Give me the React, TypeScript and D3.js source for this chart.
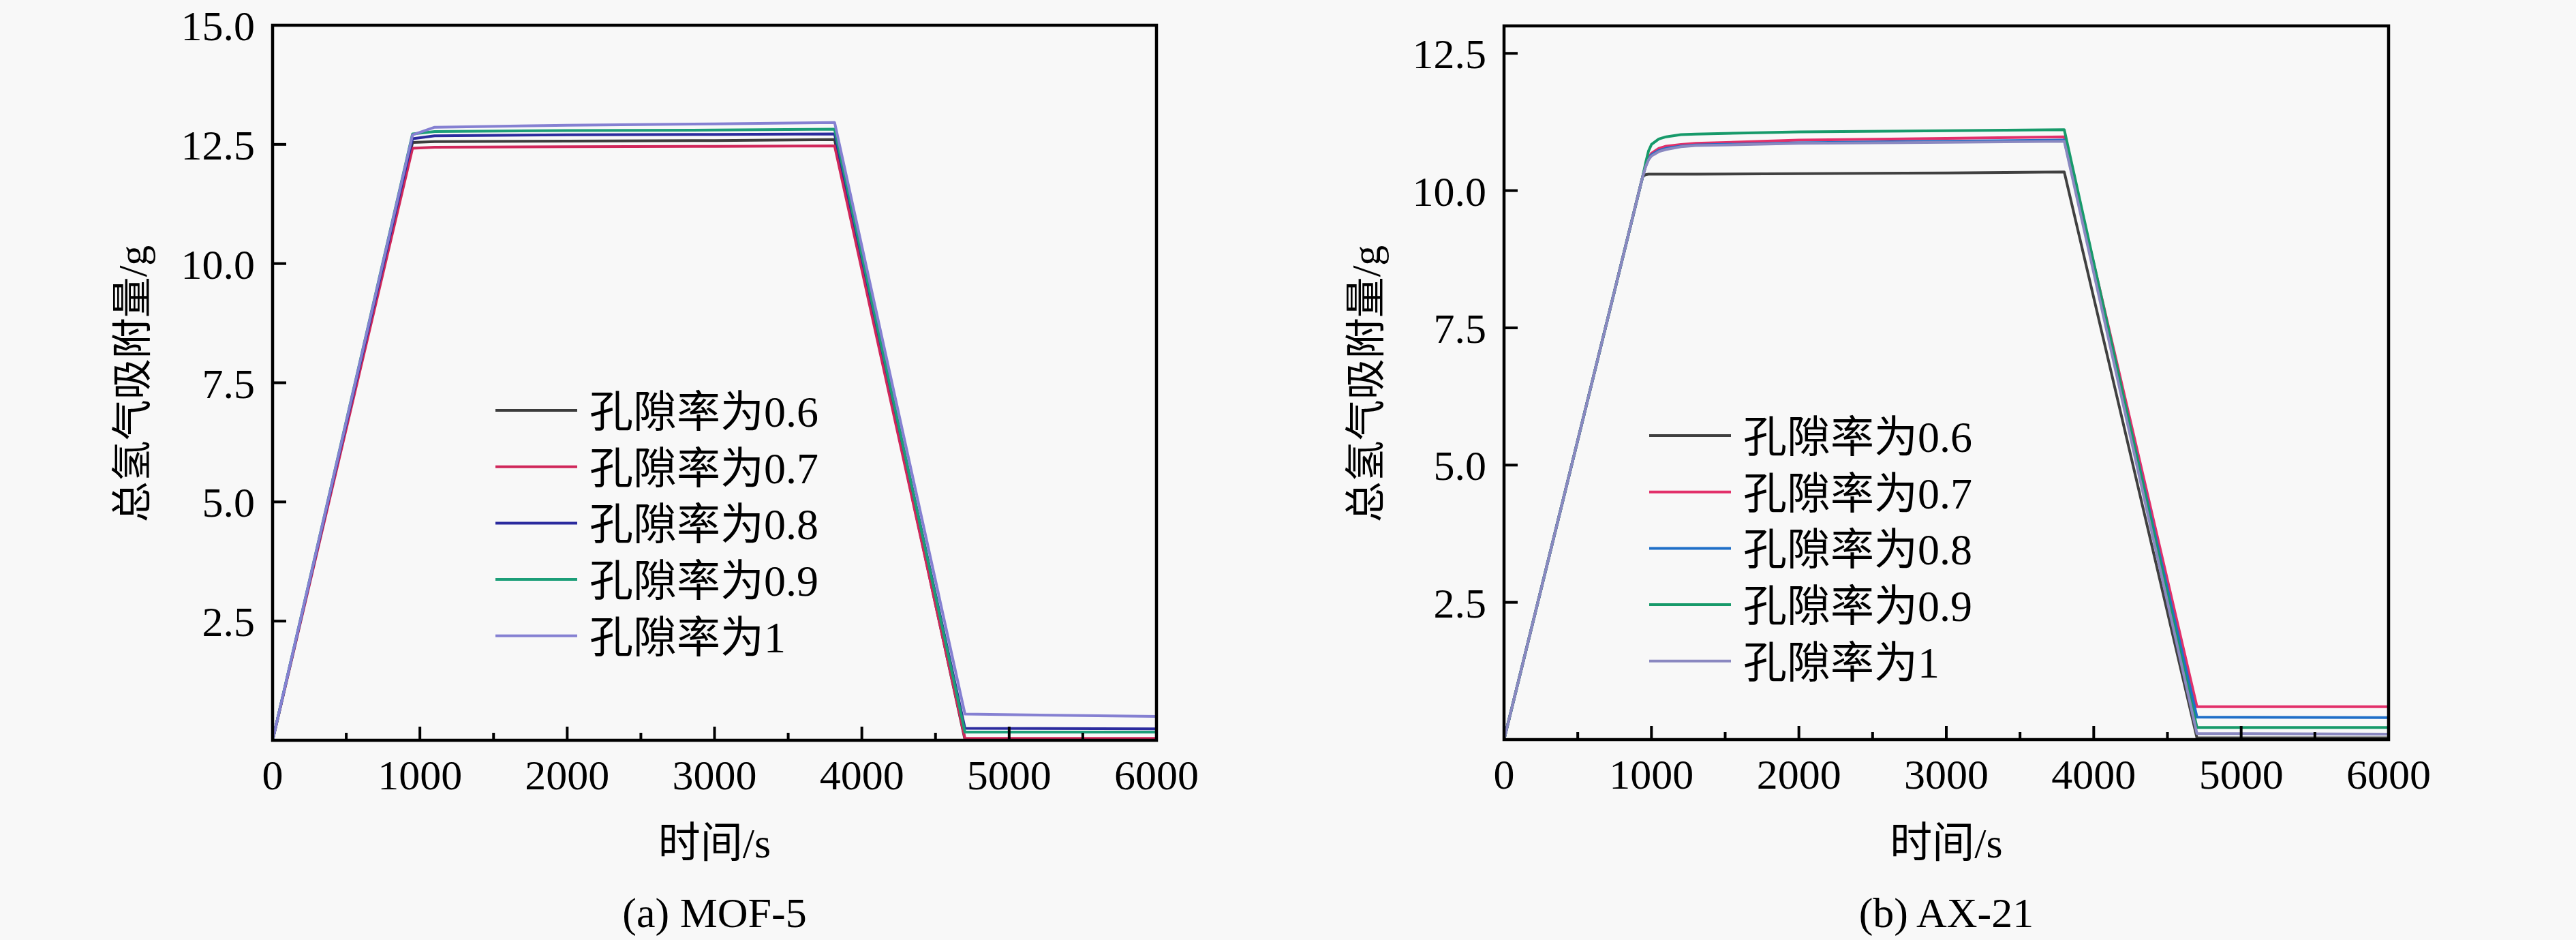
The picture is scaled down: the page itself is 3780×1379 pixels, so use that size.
import * as d3 from "d3";

// time points (s)
const mofTimes = [0, 950, 1100, 2000, 3000, 3815, 4700, 6000];
const mof06 = [0, 12.54, 12.56, 12.57, 12.58, 12.6, 0.01, 0.01];
const mof07 = [0, 12.42, 12.44, 12.45, 12.46, 12.47, 0.04, 0.04];
const mof08 = [0, 12.62, 12.68, 12.7, 12.71, 12.72, 0.25, 0.24];
const mof09 = [0, 12.72, 12.77, 12.79, 12.8, 12.82, 0.17, 0.17];
const mof10 = [0, 12.7, 12.86, 12.9, 12.93, 12.96, 0.55, 0.5];

const axTimes = [0, 940, 960, 980, 1000, 1050, 1100, 1200, 1300, 2000, 3000, 3800, 4700, 6000];
const ax06 = [0, 10.25, 10.29, 10.3, 10.3, 10.3, 10.3, 10.3, 10.3, 10.31, 10.32, 10.34, 0.03, 0.03];
const ax07 = [0, 10.25, 10.45, 10.6, 10.68, 10.77, 10.81, 10.84, 10.86, 10.92, 10.95, 10.98, 0.6, 0.6];
const ax08 = [0, 10.25, 10.44, 10.57, 10.65, 10.73, 10.77, 10.81, 10.83, 10.87, 10.9, 10.92, 0.41, 0.4];
const ax09 = [0, 10.25, 10.5, 10.72, 10.84, 10.94, 10.98, 11.02, 11.03, 11.07, 11.09, 11.11, 0.22, 0.22];
const ax10 = [0, 10.25, 10.43, 10.56, 10.63, 10.71, 10.75, 10.8, 10.82, 10.86, 10.88, 10.9, 0.11, 0.1];

const seriesNames = ["孔隙率为0.6", "孔隙率为0.7", "孔隙率为0.8", "孔隙率为0.9", "孔隙率为1"];
const mofColors = ["#3c3c3c", "#d0275a", "#2b2b9e", "#1c9e78", "#8580d2"];
const axColors = ["#404040", "#e2306a", "#1f6fc8", "#179a6a", "#8a88c0"];

const xTicks = [0, 1000, 2000, 3000, 4000, 5000, 6000];
const xMinor = [500, 1500, 2500, 3500, 4500, 5500];
const mofYTicks = [2.5, 5.0, 7.5, 10.0, 12.5, 15.0];
const axYTicks = [2.5, 5.0, 7.5, 10.0, 12.5];

const FONT = "'Liberation Serif', 'Times New Roman', 'Noto Sans CJK SC', serif";

type PanelProps = {
  left: number; right: number; top: number; bottom: number;
  yMax: number; yTicks: number[];
  times: number[]; values: number[][]; colors: string[];
  legendX: number; legendY: number;
  yTitleX: number; caption: string;
};

const Panel = (p: PanelProps) => {
  const x = d3.scaleLinear().domain([0, 6000]).range([p.left, p.right]);
  const y = d3.scaleLinear().domain([0, p.yMax]).range([p.bottom, p.top]);
  const line = d3.line<number>()
    .x((_, i) => x(p.times[i]))
    .y((d) => y(d));
  const midX = (p.left + p.right) / 2;
  const rowGap = 82.7;
  return (
    <g>
      {p.values.map((vals, i) => (
        <path key={i} d={line(vals) || ""} fill="none" stroke={p.colors[i]} strokeWidth={4} strokeLinejoin="round" />
      ))}
      {/* frame */}
      <rect x={p.left} y={p.top} width={p.right - p.left} height={p.bottom - p.top} fill="none" stroke="#000" strokeWidth={4.5} />
      {/* x ticks */}
      {xTicks.map((t) => (
        <g key={"x" + t}>
          <line x1={x(t)} x2={x(t)} y1={p.bottom} y2={p.bottom - 20} stroke="#000" strokeWidth={4} />
          <text x={x(t)} y={p.bottom + 72} fontSize={62} textAnchor="middle" fontFamily={FONT}>{t}</text>
        </g>
      ))}
      {xMinor.map((t) => (
        <line key={"m" + t} x1={x(t)} x2={x(t)} y1={p.bottom} y2={p.bottom - 11} stroke="#000" strokeWidth={4} />
      ))}
      {/* y ticks */}
      {p.yTicks.map((v) => (
        <g key={"y" + v}>
          <line x1={p.left} x2={p.left + 20} y1={y(v)} y2={y(v)} stroke="#000" strokeWidth={4} />
          <text x={p.left - 26} y={y(v) + 22} fontSize={62} textAnchor="end" fontFamily={FONT}>{v.toFixed(1)}</text>
        </g>
      ))}
      {/* legend */}
      {seriesNames.map((name, i) => (
        <g key={name}>
          <line x1={p.legendX} x2={p.legendX + 120} y1={p.legendY + i * rowGap} y2={p.legendY + i * rowGap} stroke={p.colors[i]} strokeWidth={4} />
          <text x={p.legendX + 138} y={p.legendY + i * rowGap + 24} fontSize={64} fontFamily={FONT}>{name}</text>
        </g>
      ))}
      {/* axis titles */}
      <text x={midX} y={1258} fontSize={62} textAnchor="middle" fontFamily={FONT}>时间/s</text>
      <text transform={`translate(${p.yTitleX},563) rotate(-90)`} fontSize={60} textAnchor="middle" fontFamily={FONT}>总氢气吸附量/g</text>
      <text x={midX} y={1360} fontSize={62} textAnchor="middle" fontFamily={FONT}>{p.caption}</text>
    </g>
  );
};

const App = () => {
  return (
    <svg width={3780} height={1379} style={{ position: "absolute", left: 0, top: 0, background: "#f8f8f8" }}>
      <rect width={3780} height={1379} fill="#f8f8f8" />
      <Panel left={400} right={1697} top={37} bottom={1086} yMax={15} yTicks={mofYTicks}
        times={mofTimes} values={[mof06, mof07, mof08, mof09, mof10]} colors={mofColors}
        legendX={727} legendY={602} yTitleX={215} caption="(a) MOF-5" />
      <Panel left={2207} right={3505} top={38} bottom={1085} yMax={13} yTicks={axYTicks}
        times={axTimes} values={[ax06, ax07, ax08, ax09, ax10]} colors={axColors}
        legendX={2420} legendY={639} yTitleX={2025} caption="(b) AX-21" />
    </svg>
  );
};

export default App;
